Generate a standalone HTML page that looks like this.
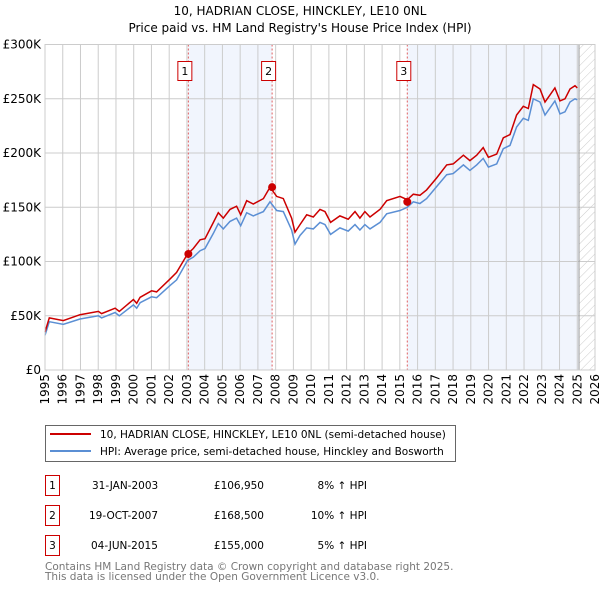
<!DOCTYPE html>
<html><head><meta charset="utf-8"><style>
body{margin:0;background:#fff;font-family:"Liberation Sans","DejaVu Sans",sans-serif}
svg text{font-family:"DejaVu Sans","Liberation Sans",sans-serif}
</style></head><body>
<svg id="c" width="600" height="590" viewBox="0 0 600 590" xmlns="http://www.w3.org/2000/svg">
<defs><pattern id="hatch" width="6" height="6" patternUnits="userSpaceOnUse" patternTransform="rotate(45)"><line x1="0" y1="0" x2="0" y2="6" stroke="#ccc" stroke-width="1"/></pattern></defs>
<text x="300" y="15" text-anchor="middle" font-size="12" fill="#000">10, HADRIAN CLOSE, HINCKLEY, LE10 0NL</text>
<text x="300" y="32" text-anchor="middle" font-size="12" fill="#000">Price paid vs. HM Land Registry's House Price Index (HPI)</text>
<g id="plot"></g>
<g>
<rect x="45.5" y="425.5" width="410" height="36" fill="#fff" stroke="#666"/>
<line x1="50" y1="434" x2="91" y2="434" stroke="#cc0000" stroke-width="2"/>
<text x="100" y="438" font-size="10.5">10, HADRIAN CLOSE, HINCKLEY, LE10 0NL (semi-detached house)</text>
<line x1="50" y1="451" x2="91" y2="451" stroke="#5b8fd4" stroke-width="2"/>
<text x="100" y="455" font-size="10.5">HPI: Average price, semi-detached house, Hinckley and Bosworth</text>
</g>
<g font-size="10.5">
<g><rect x="45.5" y="475.5" width="14" height="20" fill="#fff" stroke="#cc0000"/><text x="52.5" y="489" text-anchor="middle">1</text><text x="92" y="489">31-JAN-2003</text><text x="264" y="489" text-anchor="end">£106,950</text><text x="367" y="489" text-anchor="end">8% ↑ HPI</text></g>
<g><rect x="45.5" y="505.5" width="14" height="20" fill="#fff" stroke="#cc0000"/><text x="52.5" y="519" text-anchor="middle">2</text><text x="89" y="519">19-OCT-2007</text><text x="264" y="519" text-anchor="end">£168,500</text><text x="367" y="519" text-anchor="end">10% ↑ HPI</text></g>
<g><rect x="45.5" y="535.5" width="14" height="20" fill="#fff" stroke="#cc0000"/><text x="52.5" y="549" text-anchor="middle">3</text><text x="91" y="549">04-JUN-2015</text><text x="264" y="549" text-anchor="end">£155,000</text><text x="367" y="549" text-anchor="end">5% ↑ HPI</text></g>
</g>
<text x="45" y="570" font-size="10.5" fill="#777">Contains HM Land Registry data © Crown copyright and database right 2025.</text>
<text x="45" y="580" font-size="10.5" fill="#777">This data is licensed under the Open Government Licence v3.0.</text>
</svg>
<script>
const dates=[1995.00,1995.24,1996.03,1996.97,1998.01,1998.19,1998.95,1999.19,1999.98,2000.17,2000.36,2001.01,2001.29,2002.05,2002.42,2003.04,2003.36,2003.74,2004.02,2004.49,2004.77,2005.05,2005.43,2005.80,2006.03,2006.37,2006.74,2007.31,2007.68,2008.06,2008.43,2008.90,2009.09,2009.37,2009.75,2010.12,2010.50,2010.78,2011.10,2011.62,2012.09,2012.47,2012.75,2013.03,2013.32,2013.88,2014.26,2015.01,2015.42,2015.76,2016.13,2016.51,2017.07,2017.64,2018.01,2018.58,2018.95,2019.33,2019.70,2019.99,2020.46,2020.83,2021.21,2021.58,2021.96,2022.24,2022.52,2022.90,2023.18,2023.74,2024.03,2024.31,2024.59,2024.87,2025.00];
const hpiValues=[32,44.5,42,47,50,48,53,50,60,57,62,67.5,66.6,78,83,101,104,110,112,126,135,130,137,140,133,145,142,146,155,147,146,129,116,124,131,130,136,134,125,131,128,134,129,134,130,136,144,147,150,155,153.5,158,169,180,181,189,184,189,195,187,190,204,207,224,232,230,250,247,235,248,236,238,247,250,249];
const priceValues=[35,48,45.5,51,54,52,57,54,65,61.5,67,73,72,84,90,107,112,120,121,136,145,140,148,151,143,156,153,158,168.5,160,158,140,127,134,143,141,148,146,136,142,139,146,140,146,141,148,156,160,157,162,161,166,177,189,190,198,193,198,205,196,199,214,217,235,243,241,263,259,247,260,248,250,259,262,260];
const saleDates=[2003.08,2007.8,2015.42];
const salePrices=[106.95,168.5,155];
const saleLabels=["1","2","3"];
const yTicks=[0,50,100,150,200,250,300];
const yTickLabels=["£0","£50K","£100K","£150K","£200K","£250K","£300K"];
const xTicks=[1995,1996,1997,1998,1999,2000,2001,2002,2003,2004,2005,2006,2007,2008,2009,2010,2011,2012,2013,2014,2015,2016,2017,2018,2019,2020,2021,2022,2023,2024,2025,2026];
const dataEnd=2025.1;

const X0=45,X1=595,Y0=370,Y1=44.5;
const xs=y=>X0+(y-1995)/(2026-1995)*(X1-X0);
const ys=v=>Y0-v/300*(Y0-Y1);
const NS="http://www.w3.org/2000/svg";
const g=document.getElementById('plot');
function mk(t,a){const e=document.createElementNS(NS,t);for(const k in a)e.setAttribute(k,a[k]);g.appendChild(e);return e;}

let bg=mk('rect',{x:X0,y:Y1,width:X1-X0,height:Y0-Y1,fill:'#fff'});


let s1=mk('rect',{x:xs(saleDates[0]),y:Y1,width:xs(saleDates[1])-xs(saleDates[0]),height:Y0-Y1,fill:'#eef3fc',opacity:0.8});


let s2=mk('rect',{x:xs(saleDates[2]),y:Y1,width:xs(dataEnd)-xs(saleDates[2]),height:Y0-Y1,fill:'#eef3fc',opacity:0.8});


let h=mk('rect',{x:xs(dataEnd),y:Y1,width:X1-xs(dataEnd),height:Y0-Y1,fill:'url(#hatch)'});



yTicks.forEach((v,i)=>{
  let l=mk('line',{x1:X0,x2:X1,y1:ys(v),y2:ys(v),stroke:'#ccc','stroke-width':1});
  
  
  let t=mk('text',{x:X0-4,y:ys(v)+4,'text-anchor':'end','font-size':12,fill:'#000'});
  t.textContent=yTickLabels[i];
  
  
});
xTicks.forEach(yr=>{
  let l=mk('line',{x1:xs(yr),x2:xs(yr),y1:Y1,y2:Y0,stroke:'#ccc','stroke-width':1});
  
  
  let t=mk('text',{x:0,y:0,'text-anchor':'end','font-size':12,fill:'#000',transform:`translate(${xs(yr)+4},${Y0+4}) rotate(-90)`});
  t.textContent=yr;
  
  
});
let el=mk('line',{x1:xs(dataEnd),x2:xs(dataEnd),y1:Y1,y2:Y0,stroke:'#999','stroke-width':1});



saleDates.forEach((d,i)=>{
  let l=mk('line',{x1:xs(d),x2:xs(d),y1:Y1,y2:Y0,stroke:'#e06060','stroke-width':1,'stroke-dasharray':'2,2'});
  
  
});

function path(vals){return dates.map((d,i)=>(i?'L':'M')+xs(d).toFixed(1)+','+ys(vals[i]).toFixed(1)).join('');}
let hp=mk('path',{d:path(hpiValues),fill:'none',stroke:'#5b8fd4','stroke-width':1.5});


let pp=mk('path',{d:path(priceValues),fill:'none',stroke:'#cc0000','stroke-width':1.5});



saleDates.forEach((d,i)=>{
  let c=mk('circle',{cx:xs(d),cy:ys(salePrices[i]),r:4,fill:'#cc0000'});
  
  
  let b=mk('rect',{x:xs(d)-10.5,y:61.5,width:14,height:19,fill:'#fff',stroke:'#cc0000'});
  
  
  let t=mk('text',{x:xs(d)-3.5,y:75,'text-anchor':'middle','font-size':11});
  t.textContent=saleLabels[i];
  
  
});
let fr=mk('rect',{x:X0,y:Y1,width:X1-X0,height:Y0-Y1,fill:'none',stroke:'#ccc'});


</script>
</body></html>
